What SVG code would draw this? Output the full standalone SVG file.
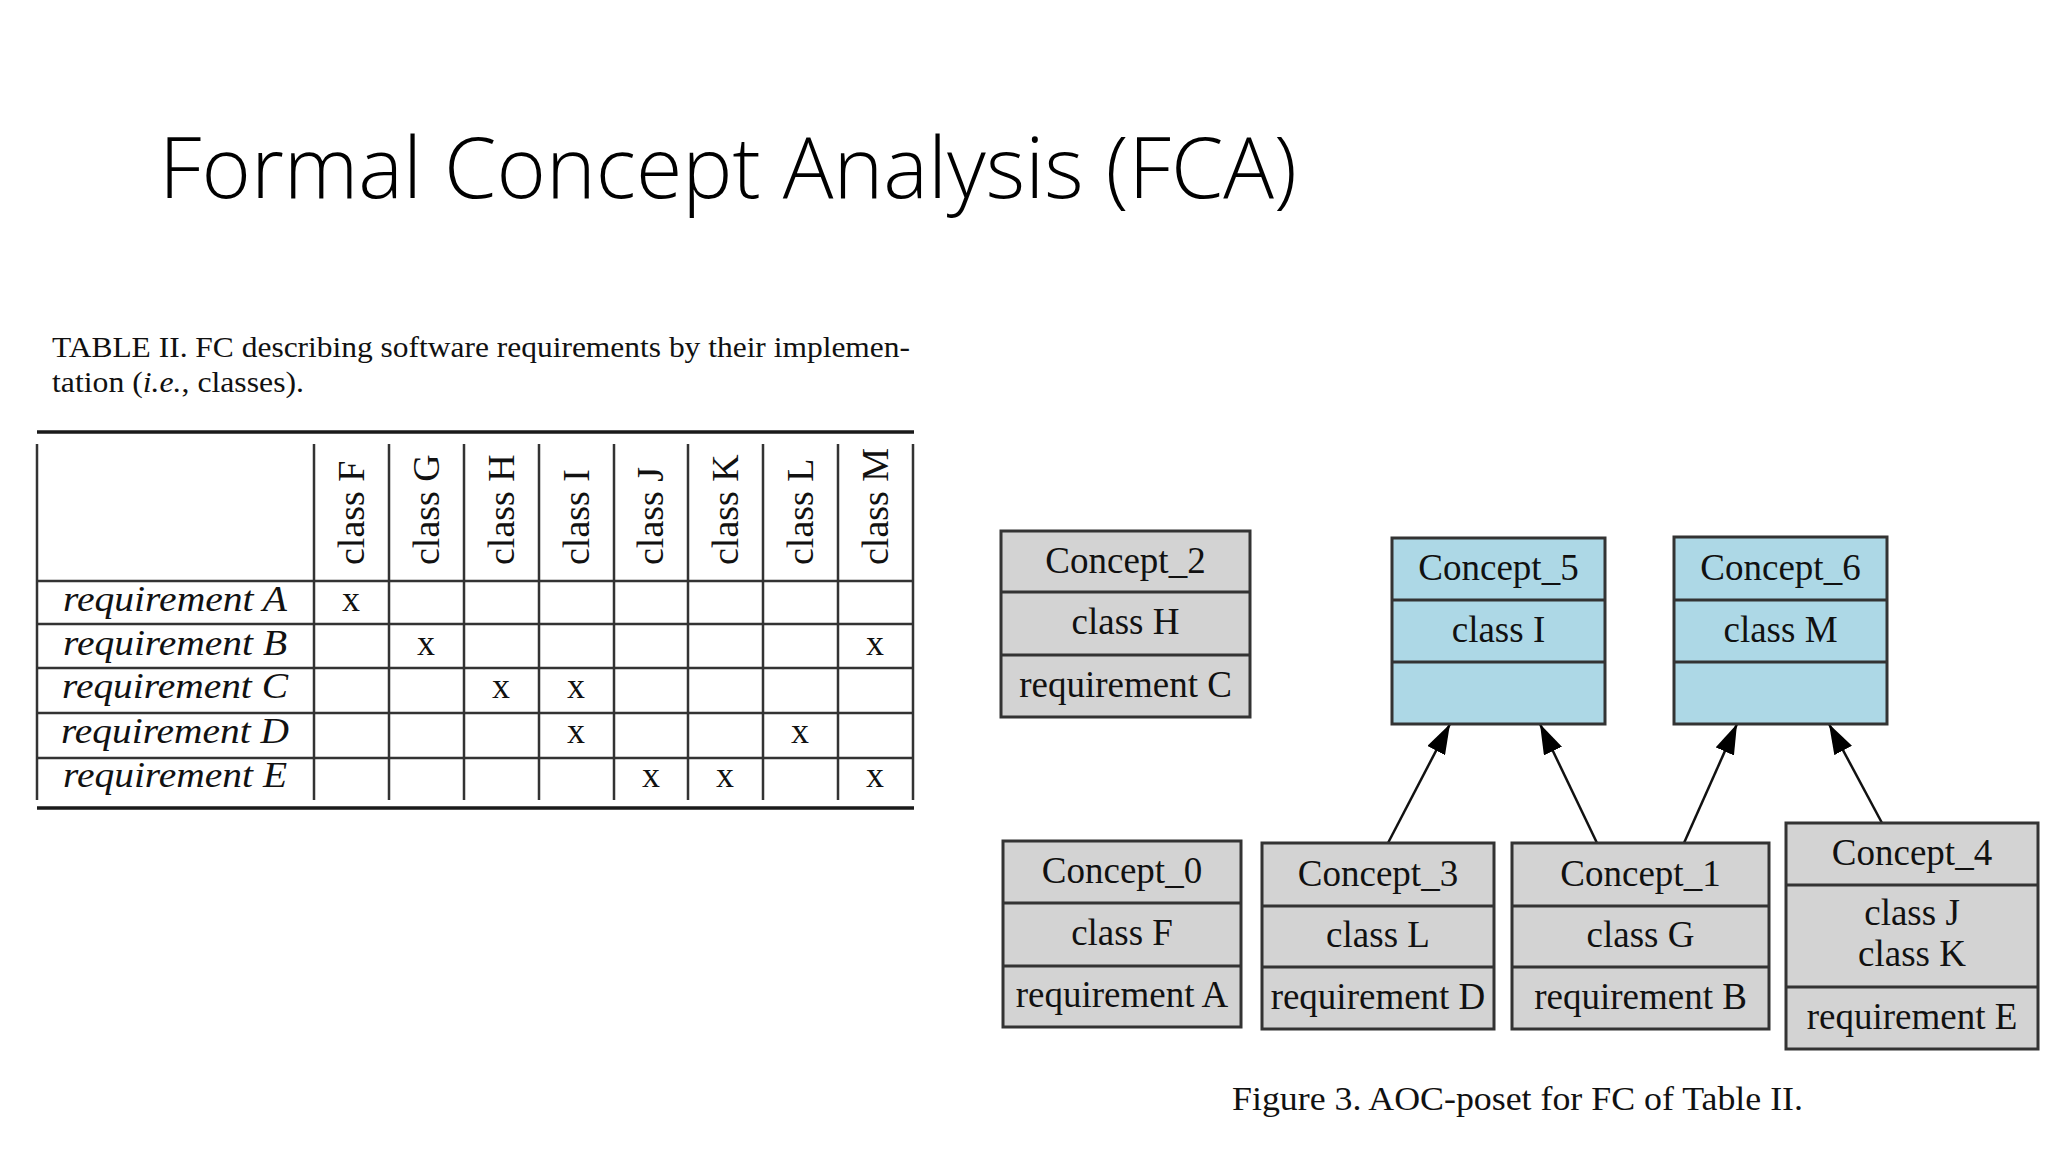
<svg xmlns="http://www.w3.org/2000/svg" width="2048" height="1152" viewBox="0 0 2048 1152">
<style>
.title{font-family:"Open Sans","Noto Sans",sans-serif;font-weight:300;font-size:84px;fill:#000}
.serif{font-family:"Liberation Serif","Times New Roman",serif;fill:#111}
.cap{font-size:29px}
.hdr{font-size:38px}
.rl{font-size:35px;font-style:italic;text-anchor:middle}
.mk{font-size:36px;text-anchor:middle}
.rule{stroke:#1a1a1a;stroke-width:3.5}
.grid{stroke:#333;stroke-width:2.5}
.box{stroke:#333;stroke-width:3}
.gray{fill:#d3d3d3}
.blue{fill:#add8e6}
.bt{font-size:37px;text-anchor:middle}
.edge{stroke:#111;stroke-width:2.5;fill:none;marker-end:url(#arrow)}
</style>
<defs>
<marker id="arrow" viewBox="0 0 30 20" refX="30" refY="10" markerWidth="30" markerHeight="20" markerUnits="userSpaceOnUse" orient="auto">
<path d="M0,0 L30,10 L0,20 z" fill="#000"/>
</marker>
</defs>
<rect width="2048" height="1152" fill="#fff"/>
<text class="title" x="159" y="198" textLength="1138" lengthAdjust="spacingAndGlyphs">Formal Concept Analysis (FCA)</text>

<g id="table-caption" class="serif cap">
<text x="52" y="357" textLength="858" lengthAdjust="spacingAndGlyphs">TABLE II. FC describing software requirements by their implemen-</text>
<text x="52" y="392" textLength="252" lengthAdjust="spacingAndGlyphs">tation (<tspan font-style="italic">i.e.</tspan>, classes).</text>
</g>

<g id="table">
<line class="rule" x1="37" y1="432" x2="914" y2="432"/>
<line class="rule" x1="37" y1="808" x2="914" y2="808"/>
<g class="grid">
<line x1="37" y1="444" x2="37" y2="800"/>
<line x1="314" y1="444" x2="314" y2="800"/>
<line x1="389" y1="444" x2="389" y2="800"/>
<line x1="464" y1="444" x2="464" y2="800"/>
<line x1="539" y1="444" x2="539" y2="800"/>
<line x1="614" y1="444" x2="614" y2="800"/>
<line x1="688" y1="444" x2="688" y2="800"/>
<line x1="763" y1="444" x2="763" y2="800"/>
<line x1="838" y1="444" x2="838" y2="800"/>
<line x1="913" y1="444" x2="913" y2="800"/>
<line x1="37" y1="581" x2="913" y2="581"/>
<line x1="37" y1="624" x2="913" y2="624"/>
<line x1="37" y1="668" x2="913" y2="668"/>
<line x1="37" y1="713" x2="913" y2="713"/>
<line x1="37" y1="758" x2="913" y2="758"/>
</g>
<g class="serif hdr">
<text transform="translate(364,565) rotate(-90)">class F</text>
<text transform="translate(439,565) rotate(-90)">class G</text>
<text transform="translate(514,565) rotate(-90)">class H</text>
<text transform="translate(589,565) rotate(-90)">class I</text>
<text transform="translate(663,565) rotate(-90)">class J</text>
<text transform="translate(738,565) rotate(-90)">class K</text>
<text transform="translate(813,565) rotate(-90)">class L</text>
<text transform="translate(888,565) rotate(-90)">class M</text>
</g>
<g class="serif rl">
<text x="175" y="611" textLength="224" lengthAdjust="spacingAndGlyphs">requirement A</text>
<text x="175" y="655" textLength="224" lengthAdjust="spacingAndGlyphs">requirement B</text>
<text x="175" y="698" textLength="226" lengthAdjust="spacingAndGlyphs">requirement C</text>
<text x="175" y="743" textLength="228" lengthAdjust="spacingAndGlyphs">requirement D</text>
<text x="175" y="787" textLength="224" lengthAdjust="spacingAndGlyphs">requirement E</text>
</g>
<g class="serif mk">
<text x="351" y="611">x</text>
<text x="426" y="655">x</text>
<text x="875" y="655">x</text>
<text x="501" y="698">x</text>
<text x="576" y="698">x</text>
<text x="576" y="743">x</text>
<text x="800" y="743">x</text>
<text x="651" y="787">x</text>
<text x="725" y="787">x</text>
<text x="875" y="787">x</text>
</g>
</g>

<g id="edges">
<line class="edge" x1="1388" y1="843" x2="1450" y2="724"/>
<line class="edge" x1="1597" y1="843" x2="1540" y2="724"/>
<line class="edge" x1="1684" y1="843" x2="1737" y2="724"/>
<line class="edge" x1="1882" y1="823" x2="1829" y2="724"/>
</g>

<g id="Concept_2">
<rect class="box gray" x="1001" y="531" width="249" height="186"/>
<line class="box" x1="1001" y1="592" x2="1250" y2="592"/>
<line class="box" x1="1001" y1="655" x2="1250" y2="655"/>
<text class="serif bt" x="1125.5" y="573">Concept_2</text>
<text class="serif bt" x="1125.5" y="634">class H</text>
<text class="serif bt" x="1125.5" y="697">requirement C</text>
</g>

<g id="Concept_5">
<rect class="box blue" x="1392" y="538" width="213" height="186"/>
<line class="box" x1="1392" y1="600" x2="1605" y2="600"/>
<line class="box" x1="1392" y1="662" x2="1605" y2="662"/>
<text class="serif bt" x="1498.5" y="580">Concept_5</text>
<text class="serif bt" x="1498.5" y="642">class I</text>
</g>

<g id="Concept_6">
<rect class="box blue" x="1674" y="537" width="213" height="187"/>
<line class="box" x1="1674" y1="600" x2="1887" y2="600"/>
<line class="box" x1="1674" y1="662" x2="1887" y2="662"/>
<text class="serif bt" x="1780.5" y="580">Concept_6</text>
<text class="serif bt" x="1780.5" y="642">class M</text>
</g>

<g id="Concept_0">
<rect class="box gray" x="1003" y="841" width="238" height="186"/>
<line class="box" x1="1003" y1="903" x2="1241" y2="903"/>
<line class="box" x1="1003" y1="966" x2="1241" y2="966"/>
<text class="serif bt" x="1122" y="883">Concept_0</text>
<text class="serif bt" x="1122" y="945">class F</text>
<text class="serif bt" x="1122" y="1007">requirement A</text>
</g>

<g id="Concept_3">
<rect class="box gray" x="1262" y="843" width="232" height="186"/>
<line class="box" x1="1262" y1="906" x2="1494" y2="906"/>
<line class="box" x1="1262" y1="967" x2="1494" y2="967"/>
<text class="serif bt" x="1378" y="886">Concept_3</text>
<text class="serif bt" x="1378" y="947">class L</text>
<text class="serif bt" x="1378" y="1009">requirement D</text>
</g>

<g id="Concept_1">
<rect class="box gray" x="1512" y="843" width="257" height="186"/>
<line class="box" x1="1512" y1="906" x2="1769" y2="906"/>
<line class="box" x1="1512" y1="967" x2="1769" y2="967"/>
<text class="serif bt" x="1640.5" y="886">Concept_1</text>
<text class="serif bt" x="1640.5" y="947">class G</text>
<text class="serif bt" x="1640.5" y="1009">requirement B</text>
</g>

<g id="Concept_4">
<rect class="box gray" x="1786" y="823" width="252" height="226"/>
<line class="box" x1="1786" y1="885" x2="2038" y2="885"/>
<line class="box" x1="1786" y1="987" x2="2038" y2="987"/>
<text class="serif bt" x="1912" y="865">Concept_4</text>
<text class="serif bt" x="1912" y="925">class J</text>
<text class="serif bt" x="1912" y="966">class K</text>
<text class="serif bt" x="1912" y="1029">requirement E</text>
</g>

<g id="figure-caption">
<text class="serif" x="1232" y="1110" font-size="33" textLength="571" lengthAdjust="spacingAndGlyphs">Figure 3. AOC-poset for FC of Table II.</text>
</g>
</svg>
